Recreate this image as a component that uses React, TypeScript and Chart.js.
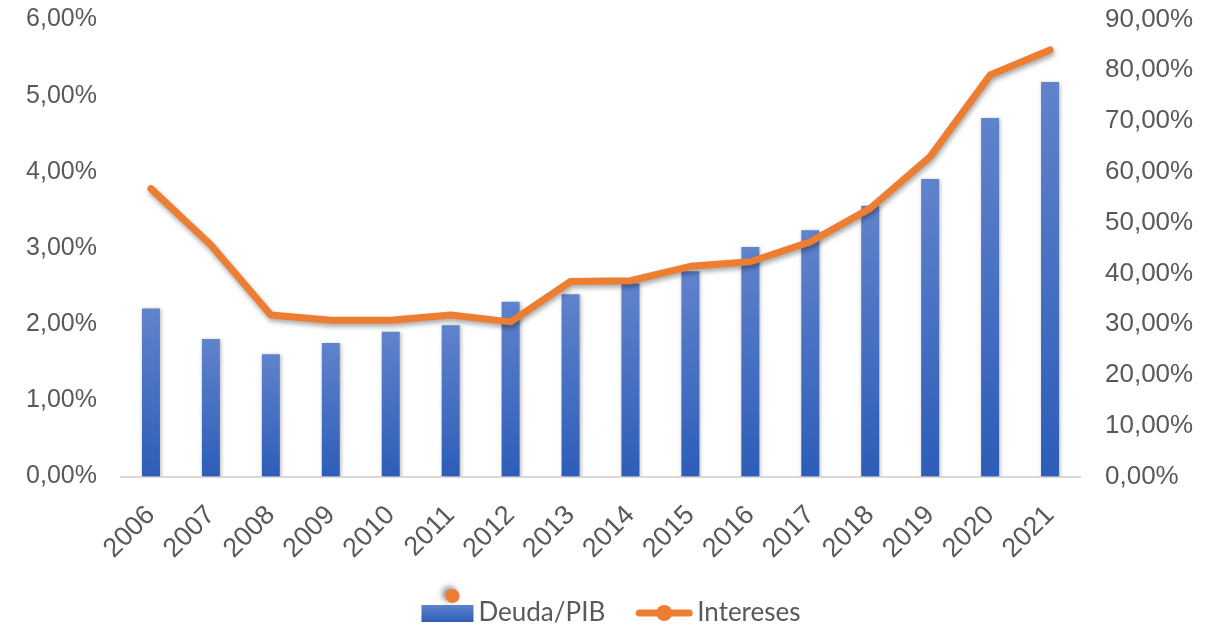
import React, { useEffect, useRef } from "react";
import { Chart, registerables } from "chart.js";

Chart.register(...registerables);

const years = ["2006", "2007", "2008", "2009", "2010", "2011", "2012", "2013", "2014", "2015", "2016", "2017", "2018", "2019", "2020", "2021"];
// Deuda/PIB (bars, right axis, %)
const deudaPIB = [33.1, 27.1, 24.1, 26.3, 28.5, 29.8, 34.4, 35.9, 38.0, 40.4, 45.2, 48.5, 53.3, 58.6, 70.6, 77.7];
// Intereses (line, left axis, %)
const intereses = [3.78, 3.04, 2.12, 2.05, 2.05, 2.12, 2.03, 2.56, 2.57, 2.76, 2.82, 3.08, 3.52, 4.2, 5.27, 5.6];

const leftMax = 6;
const leftStep = 1;
const rightMax = 90;
const rightStep = 10;

const seriesNames = ["Deuda/PIB", "Intereses"];

const TEXT = "#595959";
const AXIS_FONT = "'Liberation Sans', Arial, sans-serif";
const ORANGE = "#ED7D31";

const fmt = (v: number) => v.toFixed(2).replace(".", ",") + "%";

const shadowPlugin = {
  id: "shadows",
  beforeDatasetDraw(chart: any, args: any) {
    const ctx = chart.ctx;
    ctx.save();
    if (args.meta.type === "line") {
      ctx.shadowColor = "rgba(0,0,0,0.35)";
      ctx.shadowBlur = 5;
      ctx.shadowOffsetX = 1;
      ctx.shadowOffsetY = 3;
    } else {
      ctx.shadowColor = "rgba(0,0,0,0.3)";
      ctx.shadowBlur = 4;
      ctx.shadowOffsetX = 1;
      ctx.shadowOffsetY = 1;
    }
  },
  afterDatasetDraw(chart: any) {
    chart.ctx.restore();
  },
};

const legendPlugin = {
  id: "customLegend",
  afterDraw(chart: any) {
    const ctx = chart.ctx;
    ctx.save();
    ctx.font = "26px Lato, 'Noto Sans', sans-serif";
    const t1 = seriesNames[0];
    const t2 = seriesNames[1];
    const w1 = ctx.measureText(t1).width;
    const w2 = ctx.measureText(t2).width;
    const boxW = 52;
    const lineW = 56;
    const gapText = 5;
    const gapItems = 31;
    const total = boxW + gapText + w1 + gapItems + lineW + gapText + w2;
    let x = chart.width / 2 - total / 2;
    const y = chart.height - 14;

    const g = ctx.createLinearGradient(0, y - 8, 0, y + 9);
    g.addColorStop(0, "#5f83cc");
    g.addColorStop(1, "#2e5eb8");
    ctx.fillStyle = g;
    ctx.fillRect(x, y - 8, boxW, 17);
    ctx.save();
    ctx.shadowColor = "rgba(0,0,0,0.5)";
    ctx.shadowBlur = 6;
    ctx.shadowOffsetX = -3;
    ctx.shadowOffsetY = -2;
    ctx.fillStyle = ORANGE;
    ctx.beginPath();
    ctx.arc(x + 31, y - 17, 7, 0, Math.PI * 2);
    ctx.fill();
    ctx.restore();

    ctx.fillStyle = TEXT;
    ctx.textBaseline = "middle";
    ctx.textAlign = "left";
    ctx.fillText(t1, x + boxW + gapText, y);
    x += boxW + gapText + w1 + gapItems;

    ctx.strokeStyle = ORANGE;
    ctx.lineWidth = 7;
    ctx.lineCap = "round";
    ctx.beginPath();
    ctx.moveTo(x + 3, y);
    ctx.lineTo(x + lineW - 3, y);
    ctx.stroke();
    ctx.fillStyle = ORANGE;
    ctx.beginPath();
    ctx.arc(x + lineW / 2, y, 8, 0, Math.PI * 2);
    ctx.fill();
    ctx.fillStyle = TEXT;
    ctx.fillText(t2, x + lineW + gapText, y);
    ctx.restore();
  },
};

export default function App() {
  const ref = useRef<HTMLCanvasElement | null>(null);

  useEffect(() => {
    document.body.style.margin = "0";
    const canvas = ref.current;
    if (!canvas) return;

    const barGradient = (c: any) => {
      const chart = c.chart;
      const area = chart.chartArea;
      if (!area || c.dataIndex === undefined) return "#4472C4";
      const scale = chart.scales.y1;
      const v = deudaPIB[c.dataIndex];
      const top = scale.getPixelForValue(v);
      const g = chart.ctx.createLinearGradient(0, top, 0, area.bottom);
      g.addColorStop(0, "#6083cc");
      g.addColorStop(1, "#2d5db8");
      return g;
    };

    const chart = new Chart(canvas, {
      data: {
        labels: years,
        datasets: [
          {
            type: "line",
            label: seriesNames[1],
            data: intereses,
            yAxisID: "y",
            borderColor: ORANGE,
            backgroundColor: ORANGE,
            borderWidth: 7,
            pointRadius: 0,
            borderCapStyle: "round",
            borderJoinStyle: "round",
            tension: 0,
            order: 0,
          },
          {
            type: "bar",
            label: seriesNames[0],
            data: deudaPIB,
            yAxisID: "y1",
            backgroundColor: barGradient,
            barPercentage: 0.3,
            categoryPercentage: 1,
            order: 1,
          },
        ],
      } as any,
      options: {
        animation: false,
        responsive: true,
        maintainAspectRatio: false,
        layout: { padding: { top: 19.5, bottom: 55, left: 0, right: 0 } },
        plugins: {
          legend: { display: false },
          tooltip: { enabled: false },
        },
        scales: {
          x: {
            grid: { display: false, drawTicks: false },
            border: { display: true, color: "#d9d9d9", width: 2 },
            ticks: {
              color: TEXT,
              font: { family: AXIS_FONT, size: 27 },
              minRotation: 45,
              maxRotation: 45,
              padding: 23,
              autoSkip: false,
            },
            afterFit: (s: any) => {
              s.height = 95.5;
              s.paddingLeft = 0;
              s.paddingRight = 0;
            },
          },
          y: {
            position: "left",
            min: 0,
            max: leftMax,
            grid: { display: false, drawTicks: false },
            border: { display: false },
            ticks: {
              stepSize: leftStep,
              color: TEXT,
              font: { family: AXIS_FONT, size: 25 },
              padding: 24,
              callback: (v: any) => fmt(Number(v)),
            },
            afterFit: (s: any) => {
              s.width = 121;
              s.paddingTop = 0;
              s.paddingBottom = 0;
            },
          },
          y1: {
            position: "right",
            min: 0,
            max: rightMax,
            grid: { display: false, drawTicks: false },
            border: { display: false },
            ticks: {
              stepSize: rightStep,
              color: TEXT,
              font: { family: AXIS_FONT, size: 26 },
              padding: 25,
              callback: (v: any) => fmt(Number(v)),
            },
            afterFit: (s: any) => {
              s.width = 142;
              s.paddingTop = 0;
              s.paddingBottom = 0;
            },
          },
        },
      } as any,
      plugins: [shadowPlugin, legendPlugin],
    });

    return () => {
      chart.destroy();
    };
  }, []);

  return (
    <div style={{ position: "absolute", left: 0, top: 0, width: 1222, height: 627 }}>
      <canvas ref={ref} />
    </div>
  );
}
